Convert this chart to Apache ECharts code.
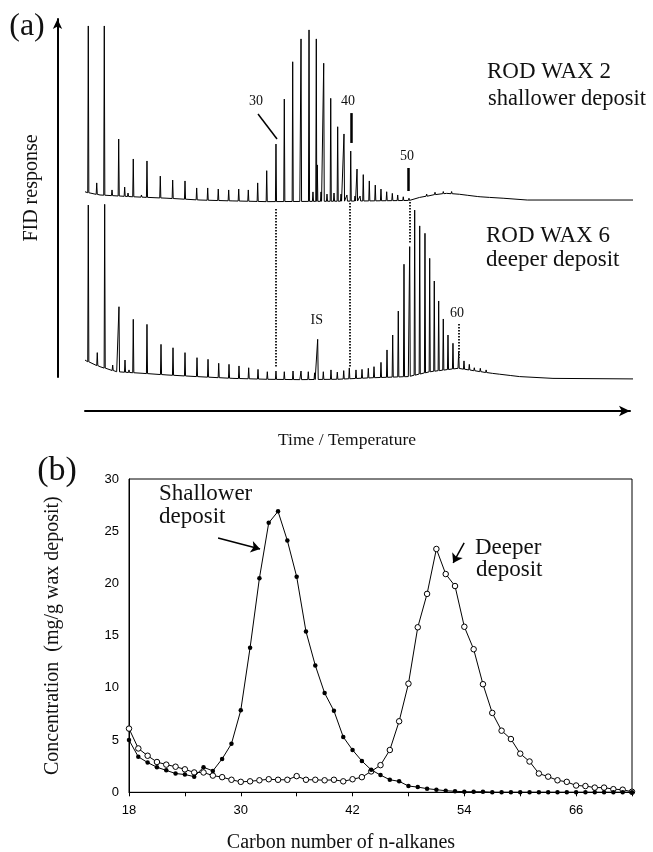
<!DOCTYPE html>
<html>
<head>
<meta charset="utf-8">
<script src="https://cdn.jsdelivr.net/npm/echarts@6/dist/echarts.min.js"></script>
<style>
html,body{margin:0;padding:0;background:#fff;}
#chart{width:653px;height:852px;}
</style>
</head>
<body>
<div id="chart"></div>
<script>
// ---------- Panel (a): gas chromatograms (time in arbitrary units 0-100, response 0-100) ----------
const upperBaseTime  = [0, 0.5, 2.74, 8.76, 14.96, 20.99, 27.0, 33.2, 39.2, 48.4, 57.5, 59.5, 61.1, 64.2, 66.0, 68.4, 72.1, 76.3, 80.7, 85.4, 100];
const upperBaseLevel = [5.7, 5.2, 3.9, 2.9, 2.1, 1.1, 0.6, 0.2, 0.3, 0.5, 0.8, 0.9, 2.5, 4.3, 4.8, 4.3, 2.9, 2.1, 1.1, 1.1, 1.1];
const upperPeakTime = [0.60, 2.14, 3.52, 4.93, 6.15, 7.24, 7.85, 8.81, 10.3, 11.31, 13.74, 16.00, 18.25, 20.38, 22.39, 24.32, 26.22, 28.05, 29.80, 31.51, 33.16, 34.85, 36.37, 37.90, 39.42, 40.88, 41.6, 42.21, 42.39, 43.07, 43.56, 44.16, 44.84, 45.44, 46.11, 46.72, 47.26, 47.8, 48.49, 49.27, 49.64, 50.2, 50.78, 51.88, 52.97, 54.01, 55.05, 56.08, 57.06, 58.08, 59.12, 61.13, 62.35, 63.87, 65.38, 66.9, 68.43, 69.95, 71.77, 73.9];
const upperPeakTop  = [97.8, 10.6, 97.8, 6.7, 35.0, 8.3, 5.0, 23.9, 3.9, 22.8, 14.4, 12.2, 11.7, 7.8, 7.8, 7.2, 6.7, 7.2, 6.7, 10.6, 17.4, 32.2, 57.2, 77.9, 90.6, 95.6, 5.6, 90.6, 20.6, 5.6, 77.1, 4.4, 57.6, 5.0, 41.8, 4.4, 37.8, 3.9, 28.3, 3.3, 18.3, 3.3, 15.2, 11.7, 9.4, 7.2, 5.7, 4.8, 3.9, 2.9, 2.1, 3.6, 4.4, 5.4, 5.8, 5.8, 5.3, 4.8, 3.9, 3.3];

const lowerBaseTime  = [0, 0.91, 2.74, 5.78, 10.58, 14.96, 20.99, 27.0, 33.2, 39.2, 46.0, 52.9, 55.1, 59.0, 62.96, 68.07, 70.3, 73.3, 79.4, 85.4, 100];
const lowerBaseLevel = [11.1, 9.6, 7.4, 4.6, 3.7, 2.8, 1.8, 0.9, 0.4, 0.2, 0.4, 1.3, 1.5, 1.9, 4.6, 6.5, 5.5, 4.1, 1.9, 0.9, 0.6];
const lowerPeakTime = [0.60, 2.24, 3.59, 5.05, 6.20, 7.30, 8.03, 8.81, 11.31, 13.87, 16.06, 18.25, 20.44, 22.45, 24.40, 26.28, 28.10, 29.87, 31.57, 33.27, 34.85, 36.37, 37.96, 39.42, 40.75, 41.9, 42.46, 43.49, 44.89, 46.04, 47.21, 48.23, 49.45, 50.55, 51.70, 52.74, 54.01, 55.11, 56.15, 57.17, 58.21, 59.25, 60.16, 61.08, 62.04, 62.90, 63.74, 64.54, 65.38, 66.24, 67.15, 68.19, 69.16, 70.13, 71.04, 72.14, 73.2, 74.5, 75.7, 77.7, 79.4];
const lowerPeakTop  = [97.2, 15.2, 97.6, 8.3, 40.7, 11.1, 5.6, 33.7, 30.9, 19.8, 17.9, 15.2, 12.4, 11.5, 9.3, 8.7, 7.8, 6.8, 5.9, 4.6, 5.0, 4.6, 5.0, 5.0, 4.6, 4.0, 22.6, 4.6, 5.6, 4.4, 5.2, 6.7, 5.6, 5.9, 6.5, 7.4, 9.8, 16.7, 25.0, 38.3, 64.3, 74.1, 94.4, 85.6, 81.5, 67.6, 55.0, 43.9, 33.9, 25.0, 20.4, 15.6, 10.6, 8.7, 6.8, 6.5, 5.6, 4.4, 3.6, 2.8, 2.2];

// ---------- Panel (b): n-alkane distributions ----------
const carbonNumbers = [18,19,20,21,22,23,24,25,26,27,28,29,30,31,32,33,34,35,36,37,38,39,40,41,42,43,44,45,46,47,48,49,50,51,52,53,54,55,56,57,58,59,60,61,62,63,64,65,66,67,68,69,70,71,72];
const shallower = [5.0,3.4,2.85,2.4,2.1,1.8,1.7,1.5,2.4,2.05,3.2,4.65,7.85,13.85,20.5,25.8,26.9,24.1,20.65,15.4,12.15,9.5,7.8,5.3,4.05,3.0,2.15,1.65,1.2,1.05,0.6,0.5,0.35,0.25,0.15,0.1,0.05,0.05,0.05,0,0,0,0,0,0,0,0,0,0,0,0,0,0,0,0];
const deeper    = [6.1,4.2,3.5,2.9,2.65,2.45,2.2,1.9,1.9,1.6,1.45,1.2,1.0,1.05,1.15,1.25,1.2,1.2,1.55,1.2,1.2,1.15,1.2,1.05,1.25,1.45,2.0,2.6,4.05,6.8,10.4,15.8,19.0,23.3,20.9,19.75,15.85,13.7,10.35,7.6,5.9,5.1,3.7,2.95,1.8,1.5,1.15,1.0,0.65,0.6,0.45,0.45,0.3,0.25,0.05];
const xLabelValues = [18,30,42,54,66];

// ---------- helpers ----------
function baselineAt(times, levels, t) {
  if (t <= times[0]) return levels[0];
  for (let i = 1; i < times.length; i++) {
    if (t <= times[i]) {
      const f = (t - times[i-1]) / (times[i] - times[i-1]);
      return levels[i-1] + f * (levels[i] - levels[i-1]);
    }
  }
  return levels[levels.length-1];
}
function buildTrace(bT, bV, pT, pV) {
  const hw = 0.1;
  const pts = [];
  bT.forEach((t, i) => {
    const near = pT.some(p => Math.abs(p - t) <= hw);
    if (!near) pts.push([t, bV[i]]);
  });
  pT.forEach((t, i) => {
    const b = baselineAt(bT, bV, t);
    pts.push([t - hw, b], [t, pV[i]], [t + hw, b]);
  });
  pts.sort((a, b) => a[0] - b[0]);
  return pts;
}

const SERIF = '"Liberation Serif", "Times New Roman", serif';
const SANS = '"Liberation Sans", Arial, sans-serif';
const INK = '#111';

function lbl(coord, text) {
  return {
    coord: coord, symbol: 'circle', symbolSize: 1,
    itemStyle: {color: 'rgba(0,0,0,0)'},
    label: {show: true, position: 'inside', formatter: text, color: INK, fontSize: 14, fontFamily: SERIF}
  };
}
function seg(a, b, style) {
  return [{coord: a, lineStyle: style}, {coord: b}];
}

const chart = echarts.init(document.getElementById('chart'), null, {renderer: 'canvas'});

const hiddenX = (g) => ({gridIndex: g, type: 'value', min: 0, max: 100, show: false});
const hiddenY = (g) => ({gridIndex: g, type: 'value', min: 0, max: 100, show: false});

function txt(text, x, y, size, align) {
  return {
    type: 'text', x: x, y: y,
    style: {text: text, font: size + 'px ' + SERIF, fill: INK, textAlign: align || 'left', textVerticalAlign: 'middle'}
  };
}

const option = {
  animation: false,
  backgroundColor: '#fff',
  grid: [
    {left: 85, width: 548, top: 22, height: 180},
    {left: 85, width: 548, top: 200, height: 180},
    {left: 85, width: 545, top: 19, height: 358},
    {left: 129, width: 503, top: 479, height: 313.3, show: true, borderColor: '#000', borderWidth: 1, backgroundColor: 'transparent'}
  ],
  xAxis: [
    hiddenX(0), hiddenX(1),
    {gridIndex: 2, type: 'value', min: 0, max: 1, position: 'bottom', offset: 34,
      axisLine: {show: true, onZero: false, symbol: ['none', 'arrow'], symbolSize: [8, 11], lineStyle: {color: '#000', width: 2}},
      axisTick: {show: false}, axisLabel: {show: false}, splitLine: {show: false}},
    {gridIndex: 3, type: 'value', min: 18, max: 72, interval: 6,
      axisLine: {show: true, onZero: false, lineStyle: {color: '#000', width: 1}},
      axisTick: {show: true, length: 4, lineStyle: {color: '#000'}},
      axisLabel: {margin: 12, color: '#000', fontSize: 13, fontFamily: SANS,
        formatter: v => xLabelValues.indexOf(v) >= 0 ? String(v) : ''},
      splitLine: {show: false}}
  ],
  yAxis: [
    hiddenY(0), hiddenY(1),
    {gridIndex: 2, type: 'value', min: 0, max: 1, position: 'left', offset: 27.5,
      axisLine: {show: true, onZero: false, symbol: ['none', 'arrow'], symbolSize: [7, 10], lineStyle: {color: '#000', width: 2}},
      axisTick: {show: false}, axisLabel: {show: false}, splitLine: {show: false}},
    {gridIndex: 3, type: 'value', min: 0, max: 30, interval: 5,
      axisLine: {show: true, onZero: false, lineStyle: {color: '#000', width: 1}},
      axisTick: {show: false},
      axisLabel: {margin: 10, color: '#000', fontSize: 13, fontFamily: SANS},
      splitLine: {show: false},
      name: 'Concentration  (mg/g wax deposit)', nameLocation: 'middle', nameRotate: 90, nameGap: 66,
      nameTextStyle: {fontFamily: SERIF, fontSize: 20, color: INK}}
  ],
  series: [
    {
      name: 'ROD WAX 2', type: 'line', xAxisIndex: 0, yAxisIndex: 0,
      data: buildTrace(upperBaseTime, upperBaseLevel, upperPeakTime, upperPeakTop),
      showSymbol: false, symbol: 'none', clip: false,
      lineStyle: {color: '#000', width: 1},
      markLine: {
        silent: true, symbol: ['none', 'none'], label: {show: false}, animation: false,
        data: [
          seg([31.57, 48.9], [35.04, 35.0], {color: '#000', width: 1.5, type: 'solid'}),
          seg([48.5, 49.4], [48.5, 32.8], {color: '#000', width: 2.5, type: 'solid'}),
          seg([58.94, 18.9], [58.94, 6.1], {color: '#000', width: 2.5, type: 'solid'})
        ]
      },
      markPoint: {silent: true, data: [lbl([31.2, 56.1], '30'), lbl([48.0, 56.1], '40'), lbl([58.76, 25.6], '50')]}
    },
    {
      name: 'ROD WAX 6', type: 'line', xAxisIndex: 1, yAxisIndex: 1,
      data: buildTrace(lowerBaseTime, lowerBaseLevel, lowerPeakTime, lowerPeakTop),
      showSymbol: false, symbol: 'none', clip: false,
      lineStyle: {color: '#000', width: 1},
      markLine: {
        silent: true, symbol: ['none', 'none'], label: {show: false}, animation: false,
        data: [
          seg([34.85, 95.0], [34.85, 6.7], {color: '#222', width: 2, type: [1.5, 1.5]}),
          seg([48.27, 98.3], [48.27, 6.7], {color: '#222', width: 2, type: [1.5, 1.5]}),
          seg([59.18, 98.9], [59.18, 76.1], {color: '#222', width: 2, type: [1.5, 1.5]}),
          seg([68.16, 31.1], [68.16, 12.2], {color: '#222', width: 2, type: [1.5, 1.5]})
        ]
      },
      markPoint: {silent: true, data: [lbl([42.3, 33.3], 'IS'), lbl([67.9, 37.2], '60')]}
    },
    {
      name: 'Shallower deposit', type: 'line', xAxisIndex: 3, yAxisIndex: 3,
      data: carbonNumbers.map((c, i) => [c, shallower[i]]),
      symbol: 'circle', symbolSize: 4.5, showSymbol: true,
      itemStyle: {color: '#000'}, lineStyle: {color: '#000', width: 1}, z: 3,
      markLine: {
        silent: true, symbol: ['none', 'arrow'], symbolSize: 9, label: {show: false},
        data: [seg([27.56, 24.36], [32.07, 23.3], {color: '#000', width: 1.5, type: 'solid'})]
      }
    },
    {
      name: 'Deeper deposit', type: 'line', xAxisIndex: 3, yAxisIndex: 3,
      data: carbonNumbers.map((c, i) => [c, deeper[i]]),
      symbol: 'circle', symbolSize: 5.5, showSymbol: true,
      itemStyle: {color: '#fff', borderColor: '#000', borderWidth: 1}, lineStyle: {color: '#000', width: 1}, z: 2,
      markLine: {
        silent: true, symbol: ['none', 'arrow'], symbolSize: 9, label: {show: false},
        data: [seg([53.98, 23.88], [52.8, 21.96], {color: '#000', width: 1.5, type: 'solid'})]
      }
    }
  ],
  graphic: [
    txt('(a)', 27, 27, 32, 'center'),
    txt('(b)', 57, 471, 34, 'center'),
    {type: 'text', x: 32, y: 188, rotation: Math.PI / 2,
      style: {text: 'FID response', font: '20px ' + SERIF, fill: INK, textAlign: 'center', textVerticalAlign: 'middle'}},
    txt('Time / Temperature', 347, 440, 17.5, 'center'),
    txt('ROD WAX 2', 487, 72.4, 23),
    txt('shallower deposit', 488, 99, 22.5),
    txt('ROD WAX 6', 486, 235.7, 23),
    txt('deeper deposit', 486, 259.7, 23),
    txt('Shallower', 159, 494.4, 23),
    txt('deposit', 159, 517.4, 23),
    txt('Deeper', 475, 548.4, 23),
    txt('deposit', 476, 570.4, 23),
    txt('Carbon number of n-alkanes', 341, 843, 20, 'center')
  ]
};
chart.setOption(option);
</script>
</body>
</html>
